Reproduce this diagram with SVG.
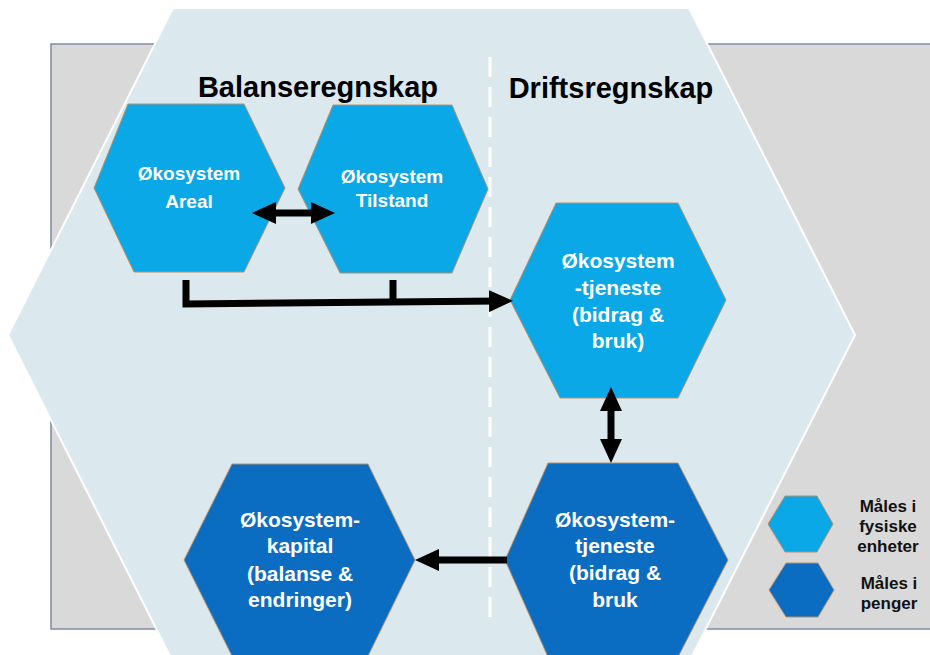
<svg xmlns="http://www.w3.org/2000/svg" width="930" height="655" viewBox="0 0 930 655">
<style>
.hl{fill:#0aa8e6;stroke:#b9906a;stroke-width:1}
.hd{fill:#0b6dc2;stroke:#b9906a;stroke-width:1}
.t{font-family:"Liberation Sans",Arial,sans-serif;font-weight:bold;fill:#ffffff;text-anchor:middle}
.h{font-family:"Liberation Sans",Arial,sans-serif;font-weight:bold;fill:#000000;text-anchor:middle;font-size:29px}
.lg{font-family:"Liberation Sans",Arial,sans-serif;font-weight:bold;fill:#111111;text-anchor:middle;font-size:17px}
.c{fill:none;stroke:#000000;stroke-width:7}
</style>
<defs>
<marker id="ah" viewBox="0 0 24 22" refX="10" refY="11" markerWidth="24" markerHeight="22" markerUnits="userSpaceOnUse" orient="auto-start-reverse">
<path d="M0,0 L24,11 L0,22 Z" fill="#000000"/>
</marker>
</defs>
<rect x="0" y="0" width="930" height="655" fill="#ffffff"/>
<rect id="bg-panel" x="51" y="44" width="890" height="585" fill="#d9d9d9" stroke="#7d8cab" stroke-width="1.5"/>
<polygon id="big-hex" points="173,8 689,8 855,335 689,662 173,662 8,335" fill="#dbe9ef" stroke="#ffffff" stroke-width="2"/>
<line x1="490" y1="57" x2="490" y2="625" stroke="#ffffff" stroke-width="3" stroke-dasharray="20 10"/>
<text class="h" x="318" y="97">Balanseregnskap</text>
<text class="h" x="611" y="98">Driftsregnskap</text>

<g id="node-areal">
<polygon class="hl" points="94,188 128,104 244,104 285,188 244,272 134,272"/>
<text class="t" font-size="19" x="189" y="180">Økosystem</text>
<text class="t" font-size="19" x="189" y="208">Areal</text>
</g>
<g id="node-tilstand">
<polygon class="hl" points="298,189 333,105 452,105 488,189 452,273 340,273"/>
<text class="t" font-size="19" x="392" y="183">Økosystem</text>
<text class="t" font-size="19" x="392" y="207">Tilstand</text>
</g>
<g id="node-tjeneste-fysisk">
<polygon class="hl" points="510,300 556,203 678,203 726,300 678,398 560,398"/>
<text class="t" font-size="21" x="618" y="268">Økosystem</text>
<text class="t" font-size="21" x="618" y="295">-tjeneste</text>
<text class="t" font-size="21" x="618" y="322">(bidrag &amp;</text>
<text class="t" font-size="21" x="618" y="348">bruk)</text>
</g>
<g id="node-tjeneste-penger">
<polygon class="hd" points="505,560 548,463 678,463 728,560 678,657 548,657"/>
<text class="t" font-size="21" x="615" y="527">Økosystem-</text>
<text class="t" font-size="21" x="615" y="553">tjeneste</text>
<text class="t" font-size="21" x="615" y="580">(bidrag &amp;</text>
<text class="t" font-size="21" x="615" y="607">bruk</text>
</g>
<g id="node-kapital">
<polygon class="hd" points="184,560 232,464 368,464 415,560 368,656 232,656"/>
<text class="t" font-size="21" x="300" y="527">Økosystem-</text>
<text class="t" font-size="21" x="300" y="553">kapital</text>
<text class="t" font-size="21" x="300" y="581">(balanse &amp;</text>
<text class="t" font-size="21" x="300" y="607">endringer)</text>
</g>

<g id="legend-fysisk">
<polygon class="hl" points="768,524 785,496 817,496 833,524 817,552 785,552"/>
<text class="lg" x="888" y="512">Måles i</text>
<text class="lg" x="888" y="532">fysiske</text>
<text class="lg" x="888" y="552">enheter</text>
</g>
<g id="legend-penger">
<polygon class="hd" points="769,590 786,563 818,563 834,590 818,617 786,617"/>
<text class="lg" x="889" y="589">Måles i</text>
<text class="lg" x="889" y="609">penger</text>
</g>

<g id="connectors">
<line class="c" x1="266" y1="213" x2="321" y2="213" marker-start="url(#ah)" marker-end="url(#ah)" stroke-width="6"/>
<path class="c" d="M186,280 V304 L499,301" marker-end="url(#ah)"/>
<path class="c" d="M393,280 V303"/>
<line class="c" x1="611" y1="401" x2="611" y2="449" marker-start="url(#ah)" marker-end="url(#ah)"/>
<line class="c" x1="507" y1="560" x2="429" y2="560" marker-end="url(#ah)"/>
</g>
</svg>
